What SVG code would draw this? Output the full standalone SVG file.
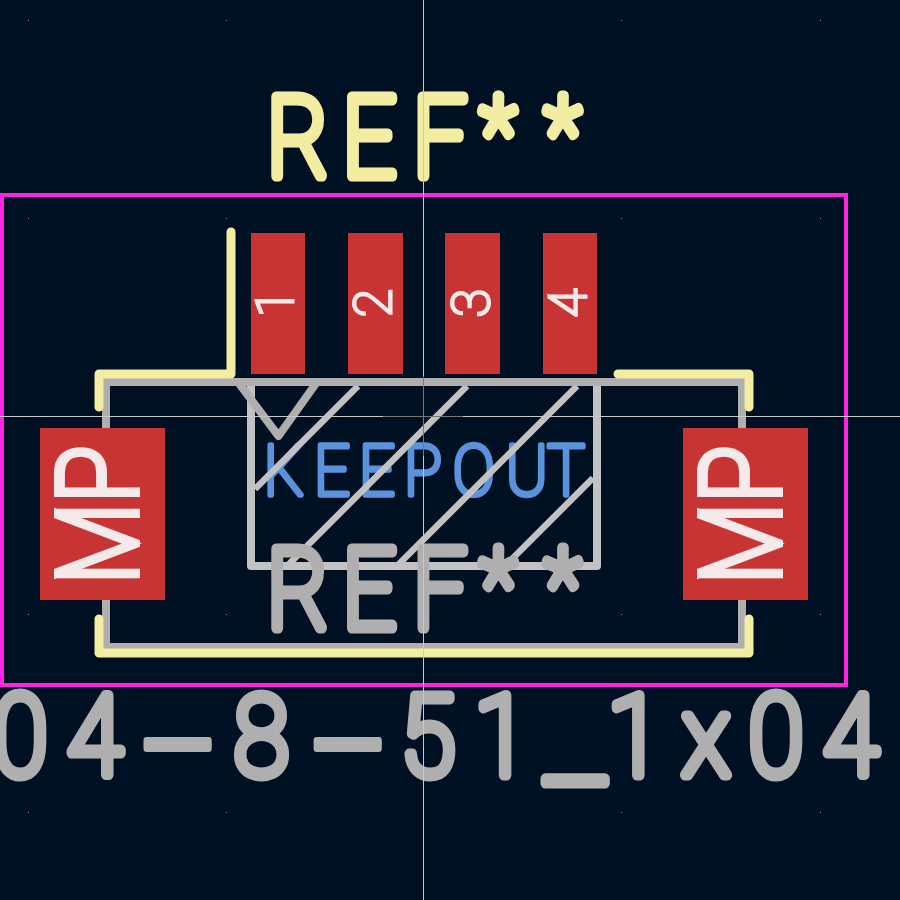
<svg xmlns="http://www.w3.org/2000/svg" width="900" height="900" viewBox="0 0 900 900">
<style>
.t{font-family:Roboto,"Liberation Sans",sans-serif;font-weight:100;stroke-linejoin:round;stroke-linecap:round}
.silkT{fill:#f2eda1;stroke:#f2eda1;stroke-width:11}
.fabT{fill:#afafaf;stroke:#afafaf;stroke-width:11}
.keep{fill:#5a93dc;stroke:#5a93dc;stroke-width:5.5}
.padT{fill:#f6e9e9;stroke:#f6e9e9;stroke-width:3;stroke-linejoin:miter}
.mpT{fill:#f6e9e9;stroke:#f6e9e9;stroke-width:8;stroke-linejoin:miter}
.pad{fill:#c83434}
.silk{fill:none;stroke:#f2eda1;stroke-width:9;stroke-linecap:round;stroke-linejoin:round}
.fab{fill:none;stroke:#afafaf;stroke-width:8;stroke-linejoin:miter}
.hat{fill:none;stroke:#c2c2c2;stroke-width:6.500}
.ko{fill:none;stroke:#c2c2c2;stroke-width:8;stroke-linejoin:round}
.cross{stroke:#c8c8c8;stroke-width:1;fill:none}
.crossd{stroke:#777;stroke-width:1;fill:none}
.dot{fill:#8a8f96}
</style>
<rect width="900" height="900" fill="#001023"/>
<g id="grid">
<rect class="dot" x="28" y="20" width="1" height="1"/><rect class="dot" x="226" y="20" width="1" height="1"/><rect class="dot" x="621" y="20" width="1" height="1"/><rect class="dot" x="820" y="20" width="1" height="1"/>
<rect class="dot" x="28" y="218" width="1" height="1"/><rect class="dot" x="226" y="218" width="1" height="1"/><rect class="dot" x="621" y="218" width="1" height="1"/><rect class="dot" x="820" y="218" width="1" height="1"/>
<rect class="dot" x="28" y="614" width="1" height="1"/><rect class="dot" x="226" y="614" width="1" height="1"/><rect class="dot" x="621" y="614" width="1" height="1"/><rect class="dot" x="820" y="614" width="1" height="1"/>
<rect class="dot" x="28" y="812" width="1" height="1"/><rect class="dot" x="226" y="812" width="1" height="1"/><rect class="dot" x="621" y="812" width="1" height="1"/><rect class="dot" x="820" y="812" width="1" height="1"/>
</g>
<g id="keepout">
<text class="t keep" font-size="70" transform="scale(.9 1)" y="495"><tspan x="293 349 399 449 503 562 608">KEEPOUT</tspan></text>
<path class="ko" d="M251 382V566H597V382"/>
<path class="hat" d="M358 386L255 489M467 386L287 566M577 386L397 566M593 478L505 566"/>
</g>
<g id="fab-outline">
<path class="fab" d="M106 382H742V647H106Z"/>
<path class="fab" style="stroke-linejoin:round" d="M238 382L278.500 436L317 382"/>
</g>
<g id="fab-ref">
<text class="t fabT" font-size="111" transform="scale(.85 1)" y="628"><tspan x="314 403 486">REF</tspan><tspan font-size="100" dy="-9" x="565 641">**</tspan></text>
</g>
<g id="silk">
<path class="silk" d="M99 407V374H231V232"/>
<path class="silk" d="M618 374H749V407"/>
<path class="silk" d="M99 619V653H749V619"/>
<text id="ref-top" class="t silkT" font-size="111" transform="scale(.85 1)" y="176"><tspan x="314 403 486">REF</tspan><tspan font-size="100" dy="-9" x="565 641">**</tspan></text>
</g>
<g id="courtyard"><rect x="2" y="195" width="844" height="490" fill="none" stroke="#ff26e2" stroke-width="4"/></g>
<g id="pad-1"><rect class="pad" x="251" y="233" width="54" height="141"/><text class="t padT" font-size="52" text-anchor="middle" transform="translate(293 303) rotate(-90)">1</text></g>
<g id="pad-2"><rect class="pad" x="348" y="233" width="55" height="141"/><text class="t padT" font-size="52" text-anchor="middle" transform="translate(391 303) rotate(-90)">2</text></g>
<g id="pad-3"><rect class="pad" x="445" y="233" width="55" height="141"/><text class="t padT" font-size="52" text-anchor="middle" transform="translate(489 303) rotate(-90)">3</text></g>
<g id="pad-4"><rect class="pad" x="543" y="233" width="54" height="141"/><text class="t padT" font-size="52" text-anchor="middle" transform="translate(586 303) rotate(-90)">4</text></g>
<g id="pad-mp-left"><rect class="pad" x="40" y="428" width="125" height="172"/><text class="t mpT" font-size="110" text-anchor="middle" transform="translate(136 515) rotate(-90) scale(.86 1)">MP</text></g>
<g id="pad-mp-right"><rect class="pad" x="683" y="428" width="125" height="172"/><text class="t mpT" font-size="110" text-anchor="middle" transform="translate(779 515) rotate(-90) scale(.86 1)">MP</text></g>
<g id="value">
<text class="t fabT" font-size="111" transform="scale(.9 1)" y="775"><tspan x="-8 75">04</tspan><tspan font-size="300" style="stroke-width:7" dy="67" x="154">-</tspan><tspan font-size="111" dy="-67" x="260">8</tspan><tspan font-size="300" style="stroke-width:7" dy="67" x="343">-</tspan><tspan font-size="111" dy="-67" x="445 527">51</tspan><tspan font-size="160" dy="4" x="606">_</tspan><tspan font-size="111" dy="-4" x="675 758 832 915">1x04</tspan></text>
</g>
<g id="crosshair">
<path class="cross" d="M423.500 0V900M0 416.500H900"/>
<path class="crossd" d="M383 416.500H463M423.500 376V456"/>
</g>
</svg>
